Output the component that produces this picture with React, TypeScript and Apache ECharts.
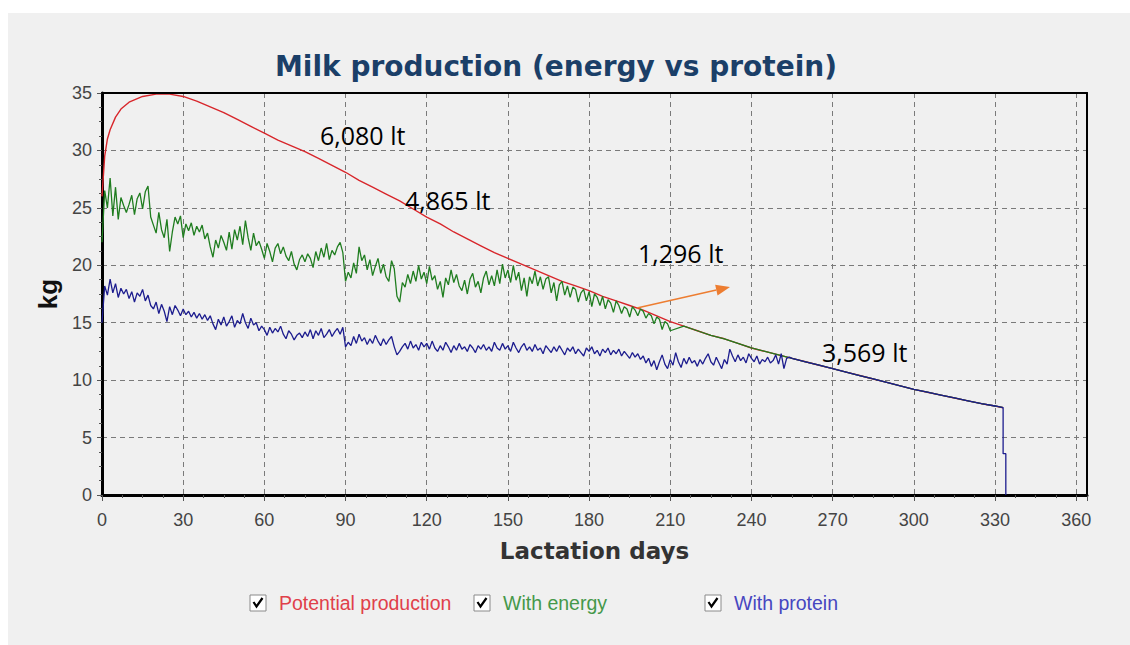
import React, { useEffect, useRef } from "react";
import * as echarts from "echarts";

// ---- data ----
const chartTitle = "Milk production (energy vs protein)";
const xAxisName = "Lactation days";
const yAxisName = "kg";
const seriesNames = ["Potential production", "With energy", "With protein"];
const seriesColors = ["#d8262b", "#1f7d1f", "#1c1c8e"];
const legendTextColors = ["#e0404a", "#45984a", "#4646c0"];

// Potential production (smooth curve), kg by lactation day
const potentialDays = [
  0, 1, 2, 3, 5, 7, 10, 15, 20, 25, 30, 35, 40, 45, 50, 55, 60, 65, 70, 75, 80, 85, 90, 95, 100,
  105, 110, 115, 120, 125, 130, 135, 140, 145, 150, 155, 160, 165, 170, 175, 180, 185, 190, 195,
  200, 205, 210, 215, 220, 225, 230, 235, 240, 245, 250, 255, 260, 265, 270, 275, 280, 285, 290,
  295, 300, 305, 310, 315, 320, 325, 330, 333,
];
const potentialKg = [
  26.0, 29.5, 31.0, 31.8, 32.9, 33.6, 34.2, 34.7, 34.9, 34.9, 34.7, 34.3, 33.8, 33.3, 32.7, 32.1,
  31.5, 30.9, 30.4, 29.9, 29.3, 28.7, 28.1, 27.4, 26.8, 26.2, 25.6, 24.9, 24.2, 23.6, 22.9, 22.3,
  21.7, 21.1, 20.6, 20.1, 19.6, 19.1, 18.6, 18.2, 17.8, 17.3, 16.9, 16.5, 16.1, 15.6, 15.1, 14.7,
  14.3, 13.9, 13.6, 13.2, 12.8, 12.5, 12.2, 11.9, 11.6, 11.3, 11.0, 10.7, 10.4, 10.1, 9.8, 9.5,
  9.2, 8.95, 8.7, 8.45, 8.2, 7.95, 7.75, 7.6,
];

// With energy: daily values from day 0 to day 210, afterwards it follows the potential curve
const energyKg = [
  22.0, 26.5, 25.0, 27.6, 24.3, 26.8, 24.0, 25.9, 25.2, 24.6,
  25.3, 26.1, 24.4, 25.8, 26.3, 24.9, 26.4, 26.9, 24.2, 23.5,
  22.8, 24.6, 23.1, 22.4, 24.0, 21.2, 22.9, 24.2, 23.6, 24.3,
  22.4, 23.6, 23.0, 23.7, 22.6, 23.4, 22.9, 23.5, 22.3, 22.8,
  21.6, 20.7, 22.2, 21.5, 22.6, 22.0, 21.3, 22.9, 21.4, 23.1,
  22.2, 23.4, 21.8, 23.9, 22.4, 21.3, 22.8, 21.7, 22.1, 21.4,
  20.6, 21.9, 21.2, 20.3, 21.5, 21.9, 21.0, 21.6, 20.8, 20.4,
  21.2, 20.1, 19.6, 20.5, 20.9, 20.3, 21.0, 20.6, 19.8, 21.2,
  20.4, 21.5, 20.7, 21.9, 20.5, 21.3, 20.9, 21.6, 22.0, 21.1,
  18.6, 19.4, 18.9, 20.2, 19.3, 21.6, 20.4, 20.9, 19.6, 20.5,
  19.1, 19.9, 20.6, 19.3, 20.1, 19.0, 18.6, 20.4, 19.7, 17.3,
  16.8, 18.5, 18.1, 19.2, 18.4, 19.5, 18.6, 20.0, 18.8, 19.4,
  18.4, 19.9, 18.7, 19.1, 17.9, 18.6, 17.2, 18.9, 18.3, 19.6,
  18.5, 19.2, 18.2, 17.8, 18.7, 17.5, 18.8, 19.3, 18.1, 18.6,
  17.6, 18.9, 19.5, 18.3, 19.1, 18.2, 19.6, 18.4, 20.1, 18.9,
  19.6, 18.5, 20.0, 18.7, 19.4, 17.8, 18.9, 17.3, 19.0, 18.4,
  19.5, 18.2, 19.0, 17.9, 18.8, 19.0, 17.6, 18.5, 16.9, 18.3,
  18.6, 17.4, 18.2, 17.2, 18.1, 17.9, 16.8, 17.6, 17.9, 16.9,
  17.7, 16.4, 17.5, 17.2, 16.5, 17.3, 16.2, 17.0, 16.7, 15.9,
  16.9, 16.5, 15.8, 16.4, 16.2, 15.5, 16.4, 16.1, 15.6, 16.2,
  16.0, 15.4, 15.8, 15.6, 14.9, 15.5, 15.3, 14.4, 15.1, 14.9,
  14.3,
];

// With protein: daily values from day 0 to day 255, afterwards it follows the potential curve
const proteinKg = [
  15.0, 18.2, 17.4, 18.8, 17.6, 18.4, 17.2, 18.0, 17.5, 17.9,
  17.1, 17.7, 16.8, 17.6, 17.3, 17.9, 16.9, 17.4, 16.5, 16.2,
  16.8, 15.8, 16.6, 16.0, 15.1, 16.4, 15.7, 16.5, 16.1, 15.6,
  16.2, 15.7, 16.0, 15.5, 15.9, 15.4, 15.8, 15.3, 15.7, 15.2,
  15.6, 14.9, 14.4, 15.3, 14.8, 15.5, 14.7, 15.1, 15.6, 14.6,
  15.2, 14.9, 15.8, 15.0, 14.5, 15.4, 14.8, 15.0, 14.3, 14.7,
  14.4, 13.9, 14.6, 14.1, 14.5, 14.2, 14.7, 14.0, 13.6, 14.3,
  14.0, 13.5, 13.9, 14.1, 13.7, 14.2, 13.8, 14.4, 13.6, 14.3,
  13.9, 14.5, 13.7, 14.0, 14.4, 13.8, 14.2, 14.5, 14.0, 14.6,
  12.9, 13.3, 13.0, 13.8, 13.2, 14.0, 13.4, 13.7, 13.1, 13.6,
  13.2, 13.9, 13.4, 13.0, 13.6, 13.1, 13.5, 13.8, 12.9, 12.2,
  12.5, 12.9, 13.2, 12.7, 13.4, 12.8, 13.1, 12.6, 13.3, 12.9,
  13.2, 12.7, 13.4, 12.8, 12.5, 13.0, 12.6, 13.3, 12.9, 12.4,
  13.0, 12.6, 13.2, 12.7, 12.9, 12.5, 13.1, 12.8, 12.4, 13.0,
  12.7, 13.1, 12.6, 12.9, 12.5, 13.3, 12.8, 12.6, 13.2, 12.7,
  13.0, 12.5, 13.3, 12.8, 12.4, 12.9, 13.2, 12.6, 12.9, 12.5,
  13.1, 12.6, 12.8, 12.3, 13.0, 12.7, 12.4, 12.9, 12.5, 13.0,
  12.6, 12.2, 12.8, 12.5, 12.9, 12.3, 12.7, 12.4, 12.1, 12.8,
  12.5, 12.9, 12.3, 12.6, 12.1, 12.7, 12.4, 12.8, 12.2, 12.6,
  12.3, 12.7, 12.1, 12.5, 12.2, 11.9, 12.4, 12.0, 12.3, 11.8,
  12.1, 11.5, 11.9, 11.2, 11.7, 10.9, 11.6, 12.2, 11.4, 11.0,
  11.8, 11.3, 12.4, 11.6, 11.1, 11.9, 11.4, 12.0, 11.5, 11.7,
  11.2, 11.8, 11.4, 11.9, 12.3, 11.6, 11.3, 12.0, 11.5, 11.0,
  11.8, 11.4, 12.7, 12.1, 11.6, 12.2, 11.7, 12.0, 11.5, 12.3,
  11.9, 11.6, 12.1, 11.4, 11.8, 11.6, 12.0, 11.5, 11.7, 12.2,
  11.4, 12.3, 11.0, 11.9, 12.0, 11.9,
];

// End of lactation (dry-off) drop of the protein line
const dryOffDays = [333, 334, 334];
const dryOffKg = [3.6, 3.6, 0];

// Annotated totals
const annotationTexts = ["6,080 lt", "4,865 lt", "1,296 lt", "3,569 lt"];

export default function App() {
  const ref = useRef<HTMLDivElement>(null);

  useEffect(() => {
    if (!ref.current) return;
    const chart = echarts.init(ref.current, undefined, { renderer: "svg" });

    const potentialData = potentialDays.map((d, i) => [d, potentialKg[i]]);
    const energyStart = energyKg.length - 1;
    const proteinStart = proteinKg.length - 1;
    const energyData = energyKg
      .map((v, i) => [i, v])
      .concat(potentialData.filter((p) => p[0] > energyStart));
    const proteinData = proteinKg
      .map((v, i) => [i, v])
      .concat(potentialData.filter((p) => p[0] > proteinStart))
      .concat(dryOffDays.map((d, i) => [d, dryOffKg[i]]));

    const annPos = [
      [320, 135],
      [405, 200],
      [638, 253],
      [822, 352],
    ];

    // arrow geometry
    const ax0 = 637, ay0 = 308, ax1 = 730, ay1 = 287;
    const dx = ax1 - ax0, dy = ay1 - ay0;
    const len = Math.sqrt(dx * dx + dy * dy);
    const ux = dx / len, uy = dy / len;
    const bx = ax1 - ux * 14, by = ay1 - uy * 14;
    const px = -uy, py = ux;

    const legendBoxX = [250, 474, 705];
    const legendY = 603;

    const graphic: any[] = [
      {
        type: "text",
        x: 556,
        y: 66,
        style: {
          text: chartTitle,
          fill: "#1b3f68",
          font: "bold 28px 'DejaVu Sans'",
          align: "center",
          verticalAlign: "middle",
        },
      },
      ...annotationTexts.map((t, i) => ({
        type: "text",
        x: annPos[i][0],
        y: annPos[i][1],
        z: 10,
        style: {
          text: t,
          fill: "#000",
          font: "25px 'Open Sans'",
          align: "left",
          verticalAlign: "middle",
        },
      })),
      {
        type: "line",
        z: 10,
        shape: { x1: ax0, y1: ay0, x2: bx, y2: by },
        style: { stroke: "#ed7d31", lineWidth: 1.5 },
      },
      {
        type: "polygon",
        z: 10,
        shape: {
          points: [
            [ax1, ay1],
            [bx + px * 5.5, by + py * 5.5],
            [bx - px * 5.5, by - py * 5.5],
          ],
        },
        style: { fill: "#ed7d31" },
      },
    ];

    seriesNames.forEach((name, i) => {
      const x = legendBoxX[i];
      graphic.push(
        {
          type: "rect",
          shape: { x: x, y: legendY - 8, width: 16, height: 16 },
          style: { fill: "#ffffff", stroke: "#8a8a8a", lineWidth: 1 },
        },
        {
          type: "polyline",
          shape: {
            points: [
              [x + 3.5, legendY - 1],
              [x + 6.5, legendY + 3.5],
              [x + 12.5, legendY - 5],
            ],
          },
          style: { stroke: "#000", lineWidth: 2.2, fill: null },
        },
        {
          type: "text",
          x: x + 29,
          y: legendY,
          style: {
            text: name,
            fill: legendTextColors[i],
            font: "19.5px 'Liberation Sans'",
            align: "left",
            verticalAlign: "middle",
          },
        }
      );
    });

    const gridLine = { show: true, lineStyle: { color: "#7a7a7a", type: [5, 4], width: 1 } };

    const option: any = {
      animation: false,
      backgroundColor: "transparent",
      grid: {
        left: 102,
        right: 43,
        top: 93,
        bottom: 150,
        show: false,
      },
      xAxis: [
        {
          type: "value",
          min: 0,
          max: 364,
          interval: 30,
          name: xAxisName,
          nameLocation: "middle",
          nameGap: 44,
          nameTextStyle: {
            fontFamily: "DejaVu Sans",
            fontWeight: "bold",
            fontSize: 23,
            color: "#333",
          },
          axisLine: { show: true, onZero: false, lineStyle: { color: "#000", width: 3 } },
          axisTick: { show: true, length: 6, lineStyle: { color: "#555" } },
          minorTick: { show: true, splitNumber: 4, length: 3, lineStyle: { color: "#555" } },
          axisLabel: {
            showMaxLabel: false,
            margin: 16,
            fontFamily: "Liberation Sans",
            fontSize: 18,
            color: "#444",
          },
          splitLine: gridLine,
        },
        {
          type: "value",
          position: "top",
          min: 0,
          max: 364,
          z: 6,
          axisLine: { show: true, onZero: false, lineStyle: { color: "#000", width: 2 } },
          axisTick: { show: false },
          axisLabel: { show: false },
          splitLine: { show: false },
        },
      ],
      yAxis: [
        {
          type: "value",
          min: 0,
          max: 35,
          interval: 5,
          name: yAxisName,
          nameLocation: "middle",
          nameGap: 40,
          nameRotate: 90,
          nameTextStyle: {
            fontFamily: "Liberation Sans",
            fontWeight: "bold",
            fontSize: 26,
            color: "#111",
          },
          axisLine: { show: true, onZero: false, lineStyle: { color: "#000", width: 3 } },
          axisTick: { show: true, length: 5, lineStyle: { color: "#555" } },
          minorTick: { show: true, splitNumber: 4, length: 3, lineStyle: { color: "#555" } },
          axisLabel: {
            margin: 10,
            fontFamily: "Liberation Sans",
            fontSize: 18,
            color: "#444",
          },
          splitLine: gridLine,
        },
        {
          type: "value",
          position: "right",
          min: 0,
          max: 35,
          z: 6,
          axisLine: { show: true, onZero: false, lineStyle: { color: "#000", width: 2 } },
          axisTick: { show: false },
          axisLabel: { show: false },
          splitLine: { show: false },
        },
      ],
      series: [
        {
          type: "line",
          name: seriesNames[0],
          data: potentialData,
          showSymbol: false,
          symbol: "none",
          lineStyle: { color: seriesColors[0], width: 1.4 },
          itemStyle: { color: seriesColors[0] },
          z: 3,
        },
        {
          type: "line",
          name: seriesNames[1],
          data: energyData,
          showSymbol: false,
          symbol: "none",
          lineStyle: { color: seriesColors[1], width: 1.3 },
          itemStyle: { color: seriesColors[1] },
          z: 4,
        },
        {
          type: "line",
          name: seriesNames[2],
          data: proteinData,
          showSymbol: false,
          symbol: "none",
          lineStyle: { color: seriesColors[2], width: 1.3 },
          itemStyle: { color: seriesColors[2] },
          z: 5,
        },
      ],
      graphic: graphic,
    };

    chart.setOption(option);
    return () => {
      chart.dispose();
    };
  }, []);

  return (
    <div
      style={{
        position: "absolute",
        left: 0,
        top: 0,
        width: 1130,
        height: 645,
        background: "#ffffff",
        overflow: "hidden",
      }}
    >
      <div
        style={{
          position: "absolute",
          left: 8,
          top: 13,
          width: 1122,
          height: 632,
          background: "#f0f0f0",
        }}
      />
      <div
        ref={ref}
        style={{ position: "absolute", left: 0, top: 0, width: 1130, height: 645 }}
      />
    </div>
  );
}
